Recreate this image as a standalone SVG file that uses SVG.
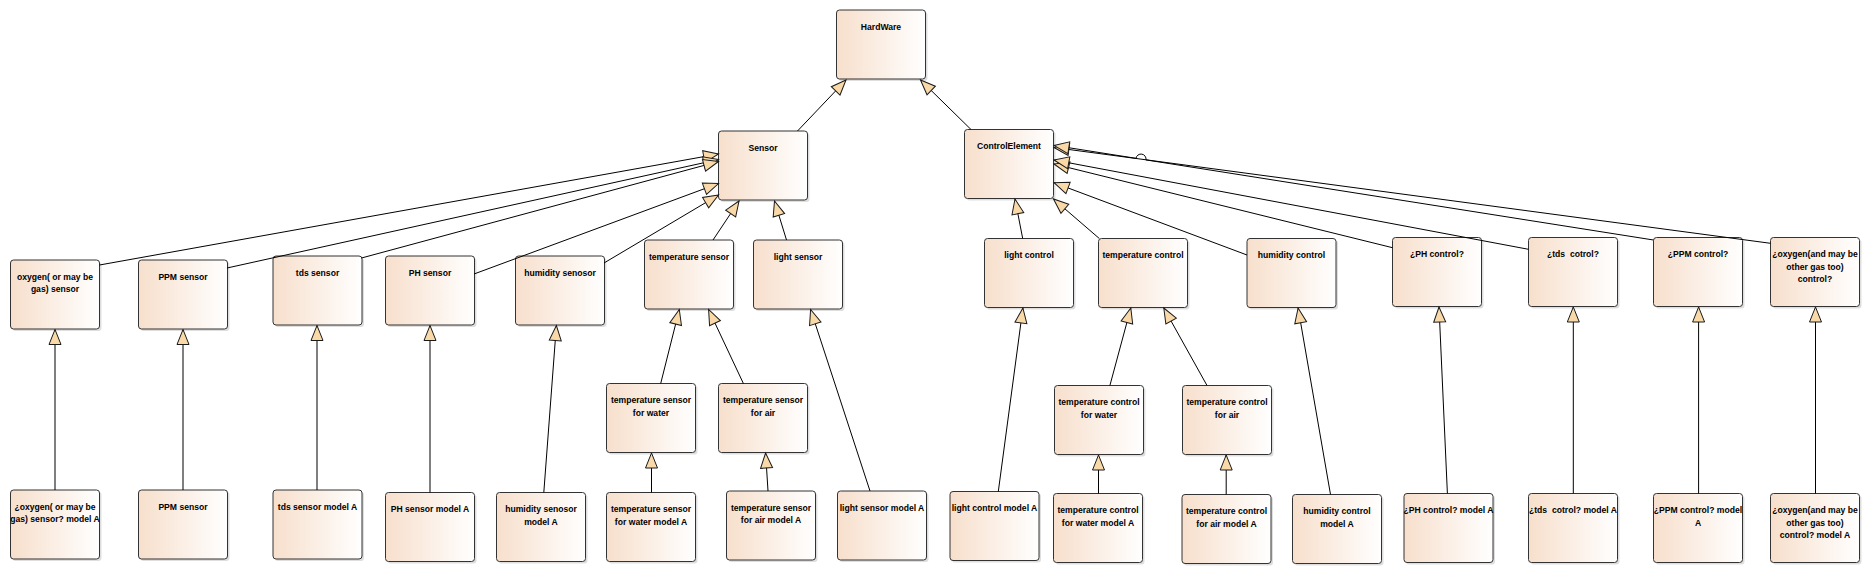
<svg xmlns="http://www.w3.org/2000/svg" width="1870" height="574" viewBox="0 0 1870 574">
<defs>
<linearGradient id="g" x1="0" y1="0" x2="1" y2="0">
<stop offset="0" stop-color="#F7DFCC"/>
<stop offset="1" stop-color="#FFFFFF"/>
</linearGradient>
<marker id="gen" markerUnits="userSpaceOnUse" markerWidth="20" markerHeight="16" viewBox="-17 -8 20 16" refX="0" refY="0" orient="auto" overflow="visible">
<path d="M0,0 L-15,-6 L-15,6 Z" fill="#FAD9A8" stroke="#1a1a1a" stroke-width="1" stroke-linejoin="miter"/>
</marker>
<style>
.sh{fill:#000;opacity:.13}
.box{fill:url(#g);stroke:#333;stroke-width:1}
text{font-family:"Liberation Sans",Arial,sans-serif;font-size:8.6px;font-weight:bold;fill:#000;text-anchor:middle;white-space:pre}
.c{fill:none;stroke:#000;stroke-width:1;marker-end:url(#gen)}
</style>
</defs>
<rect width="1870" height="574" fill="#fff"/>
<g id="nodes">
<g id="hardware"><rect class="sh" x="838.5" y="12" width="89" height="69" rx="3"/><rect class="box" x="836.5" y="10" width="89" height="69" rx="3"/><text x="881" y="29.5">HardWare</text></g>
<g id="sensor"><rect class="sh" x="720.5" y="133" width="89" height="69" rx="3"/><rect class="box" x="718.5" y="131" width="89" height="69" rx="3"/><text x="763" y="150.5">Sensor</text></g>
<g id="controlElement"><rect class="sh" x="966.5" y="131.5" width="89" height="69" rx="3"/><rect class="box" x="964.5" y="129.5" width="89" height="69" rx="3"/><text x="1009" y="149">ControlElement</text></g>
<g id="oxygenSensor"><rect class="sh" x="12.5" y="262" width="89" height="69" rx="3"/><rect class="box" x="10.5" y="260" width="89" height="69" rx="3"/><text x="55" y="279.5">oxygen( or may be</text><text x="55" y="292.2">gas) sensor</text></g>
<g id="ppmSensor"><rect class="sh" x="140.5" y="262" width="89" height="69" rx="3"/><rect class="box" x="138.5" y="260" width="89" height="69" rx="3"/><text x="183" y="279.5">PPM sensor</text></g>
<g id="tdsSensor"><rect class="sh" x="275" y="258" width="89" height="69" rx="3"/><rect class="box" x="273" y="256" width="89" height="69" rx="3"/><text x="317.5" y="275.5">tds sensor</text></g>
<g id="phSensor"><rect class="sh" x="387.5" y="258" width="89" height="69" rx="3"/><rect class="box" x="385.5" y="256" width="89" height="69" rx="3"/><text x="430" y="275.5">PH sensor</text></g>
<g id="humiditySensor"><rect class="sh" x="517.5" y="258" width="89" height="69" rx="3"/><rect class="box" x="515.5" y="256" width="89" height="69" rx="3"/><text x="560" y="275.5">humidity senosor</text></g>
<g id="temperatureSensor"><rect class="sh" x="646.5" y="242" width="89" height="69" rx="3"/><rect class="box" x="644.5" y="240" width="89" height="69" rx="3"/><text x="689" y="259.5">temperature sensor</text></g>
<g id="lightSensor"><rect class="sh" x="755.5" y="242" width="89" height="69" rx="3"/><rect class="box" x="753.5" y="240" width="89" height="69" rx="3"/><text x="798" y="259.5">light sensor</text></g>
<g id="tempSensorWater"><rect class="sh" x="608.5" y="385.5" width="89" height="69" rx="3"/><rect class="box" x="606.5" y="383.5" width="89" height="69" rx="3"/><text x="651" y="403">temperature sensor</text><text x="651" y="415.7">for water</text></g>
<g id="tempSensorAir"><rect class="sh" x="720.5" y="385.5" width="89" height="69" rx="3"/><rect class="box" x="718.5" y="383.5" width="89" height="69" rx="3"/><text x="763" y="403">temperature sensor</text><text x="763" y="415.7">for air</text></g>
<g id="oxygenSensorModelA"><rect class="sh" x="12.5" y="492" width="89" height="69" rx="3"/><rect class="box" x="10.5" y="490" width="89" height="69" rx="3"/><text x="55" y="509.5">¿oxygen( or may be</text><text x="55" y="522.2">gas) sensor? model A</text></g>
<g id="ppmSensorModel"><rect class="sh" x="140.5" y="492" width="89" height="69" rx="3"/><rect class="box" x="138.5" y="490" width="89" height="69" rx="3"/><text x="183" y="509.5">PPM sensor</text></g>
<g id="tdsSensorModelA"><rect class="sh" x="275" y="492" width="89" height="69" rx="3"/><rect class="box" x="273" y="490" width="89" height="69" rx="3"/><text x="317.5" y="509.5">tds sensor model A</text></g>
<g id="phSensorModelA"><rect class="sh" x="387.5" y="494.5" width="89" height="69" rx="3"/><rect class="box" x="385.5" y="492.5" width="89" height="69" rx="3"/><text x="430" y="512">PH sensor model A</text></g>
<g id="humiditySensorModelA"><rect class="sh" x="498.5" y="494.5" width="89" height="69" rx="3"/><rect class="box" x="496.5" y="492.5" width="89" height="69" rx="3"/><text x="541" y="512">humidity senosor</text><text x="541" y="524.7">model A</text></g>
<g id="tempSensorWaterModelA"><rect class="sh" x="608.5" y="494.5" width="89" height="69" rx="3"/><rect class="box" x="606.5" y="492.5" width="89" height="69" rx="3"/><text x="651" y="512">temperature sensor</text><text x="651" y="524.7">for water model A</text></g>
<g id="tempSensorAirModelA"><rect class="sh" x="728.5" y="493" width="89" height="69" rx="3"/><rect class="box" x="726.5" y="491" width="89" height="69" rx="3"/><text x="771" y="510.5">temperature sensor</text><text x="771" y="523.2">for air model A</text></g>
<g id="lightSensorModelA"><rect class="sh" x="839.5" y="493" width="89" height="69" rx="3"/><rect class="box" x="837.5" y="491" width="89" height="69" rx="3"/><text x="882" y="510.5">light sensor model A</text></g>
<g id="lightControl"><rect class="sh" x="986.5" y="240.5" width="89" height="69" rx="3"/><rect class="box" x="984.5" y="238.5" width="89" height="69" rx="3"/><text x="1029" y="258">light control</text></g>
<g id="temperatureControl"><rect class="sh" x="1100.5" y="240.5" width="89" height="69" rx="3"/><rect class="box" x="1098.5" y="238.5" width="89" height="69" rx="3"/><text x="1143" y="258">temperature control</text></g>
<g id="humidityControl"><rect class="sh" x="1249" y="240.5" width="89" height="69" rx="3"/><rect class="box" x="1247" y="238.5" width="89" height="69" rx="3"/><text x="1291.5" y="258">humidity control</text></g>
<g id="phControl"><rect class="sh" x="1394.5" y="239.5" width="89" height="69" rx="3"/><rect class="box" x="1392.5" y="237.5" width="89" height="69" rx="3"/><text x="1437" y="257">¿PH control?</text></g>
<g id="tdsControl"><rect class="sh" x="1530.5" y="239.5" width="89" height="69" rx="3"/><rect class="box" x="1528.5" y="237.5" width="89" height="69" rx="3"/><text x="1573" y="257">¿tds  cotrol?</text></g>
<g id="ppmControl"><rect class="sh" x="1655.5" y="239.5" width="89" height="69" rx="3"/><rect class="box" x="1653.5" y="237.5" width="89" height="69" rx="3"/><text x="1698" y="257">¿PPM control?</text></g>
<g id="oxygenControl"><rect class="sh" x="1772.5" y="239.5" width="89" height="69" rx="3"/><rect class="box" x="1770.5" y="237.5" width="89" height="69" rx="3"/><text x="1815" y="257">¿oxygen(and may be</text><text x="1815" y="269.7">other gas too)</text><text x="1815" y="282.4">control?</text></g>
<g id="tempControlWater"><rect class="sh" x="1056.5" y="387.5" width="89" height="69" rx="3"/><rect class="box" x="1054.5" y="385.5" width="89" height="69" rx="3"/><text x="1099" y="405">temperature control</text><text x="1099" y="417.7">for water</text></g>
<g id="tempControlAir"><rect class="sh" x="1184.5" y="387.5" width="89" height="69" rx="3"/><rect class="box" x="1182.5" y="385.5" width="89" height="69" rx="3"/><text x="1227" y="405">temperature control</text><text x="1227" y="417.7">for air</text></g>
<g id="lightControlModelA"><rect class="sh" x="952" y="493.5" width="89" height="69" rx="3"/><rect class="box" x="950" y="491.5" width="89" height="69" rx="3"/><text x="994.5" y="511">light control model A</text></g>
<g id="tempControlWaterModelA"><rect class="sh" x="1055.5" y="495.5" width="89" height="69" rx="3"/><rect class="box" x="1053.5" y="493.5" width="89" height="69" rx="3"/><text x="1098" y="513">temperature control</text><text x="1098" y="525.7">for water model A</text></g>
<g id="tempControlAirModelA"><rect class="sh" x="1184" y="496.5" width="89" height="69" rx="3"/><rect class="box" x="1182" y="494.5" width="89" height="69" rx="3"/><text x="1226.5" y="514">temperature control</text><text x="1226.5" y="526.7">for air model A</text></g>
<g id="humidityControlModelA"><rect class="sh" x="1294.5" y="496.5" width="89" height="69" rx="3"/><rect class="box" x="1292.5" y="494.5" width="89" height="69" rx="3"/><text x="1337" y="514">humidity control</text><text x="1337" y="526.7">model A</text></g>
<g id="phControlModelA"><rect class="sh" x="1406" y="495.5" width="89" height="69" rx="3"/><rect class="box" x="1404" y="493.5" width="89" height="69" rx="3"/><text x="1448.5" y="513">¿PH control? model A</text></g>
<g id="tdsControlModelA"><rect class="sh" x="1530.5" y="495.5" width="89" height="69" rx="3"/><rect class="box" x="1528.5" y="493.5" width="89" height="69" rx="3"/><text x="1573" y="513">¿tds  cotrol? model A</text></g>
<g id="ppmControlModelA"><rect class="sh" x="1655.5" y="495.5" width="89" height="69" rx="3"/><rect class="box" x="1653.5" y="493.5" width="89" height="69" rx="3"/><text x="1698" y="513">¿PPM control? model</text><text x="1698" y="525.7">A</text></g>
<g id="oxygenControlModelA"><rect class="sh" x="1772.5" y="495.5" width="89" height="69" rx="3"/><rect class="box" x="1770.5" y="493.5" width="89" height="69" rx="3"/><text x="1815" y="513">¿oxygen(and may be</text><text x="1815" y="525.7">other gas too)</text><text x="1815" y="538.4">control? model A</text></g>
</g>
<g id="connectors">
<path class="c" d="M797.5,131 L846,80"/>
<path class="c" d="M971,129.5 L920.5,80"/>
<path class="c" d="M99.5,265 L718.5,154"/>
<path class="c" d="M227,268 L718.5,159.5"/>
<path class="c" d="M361.5,258 L718.5,161.5"/>
<path class="c" d="M474,274 L718.5,183.5"/>
<path class="c" d="M604,263 L718.5,195"/>
<path class="c" d="M713,240 L739,201"/>
<path class="c" d="M786.5,240 L774.5,201"/>
<path class="c" d="M660.7,383.5 L679.3,309.5"/>
<path class="c" d="M743.4,383.5 L708.6,309.5"/>
<path class="c" d="M870,491 L810.6,309.5"/>
<path class="c" d="M55,490 L55,329.5"/>
<path class="c" d="M183,490 L183,329.5"/>
<path class="c" d="M317,490 L317,325.5"/>
<path class="c" d="M430,492.5 L430,325.5"/>
<path class="c" d="M543.8,492.5 L556.4,325.5"/>
<path class="c" d="M651.5,492.5 L651.5,453"/>
<path class="c" d="M768,491 L765.6,453"/>
<path class="c" d="M1022.7,238.5 L1015,199"/>
<path class="c" d="M1099.3,238.5 L1053.5,199"/>
<path class="c" d="M1247,255 L1054,182.7"/>
<path class="c" d="M1392.5,247.7 L1054,164"/>
<path class="c" d="M1528.5,249.3 L1054,160"/>
<path class="c" d="M1770.5,243.3 L1054,147.5"/>
<path class="c" d="M1653.5,240 L1146,159.92 A5,5 0 0 0 1136,158.34 L1054,145.4"/>
<path class="c" d="M1109.9,385.5 L1130.8,308"/>
<path class="c" d="M1207,385.5 L1163.8,308"/>
<path class="c" d="M998.3,491.5 L1022.9,308"/>
<path class="c" d="M1098.5,493.5 L1098.5,455"/>
<path class="c" d="M1226.2,494.5 L1226.2,455"/>
<path class="c" d="M1330.5,494.5 L1298.1,308"/>
<path class="c" d="M1447.4,493.5 L1439,307"/>
<path class="c" d="M1573.3,493.5 L1573.3,307"/>
<path class="c" d="M1698.6,493.5 L1698.6,307"/>
<path class="c" d="M1815.5,493.5 L1815.5,307"/>
</g>
</svg>
